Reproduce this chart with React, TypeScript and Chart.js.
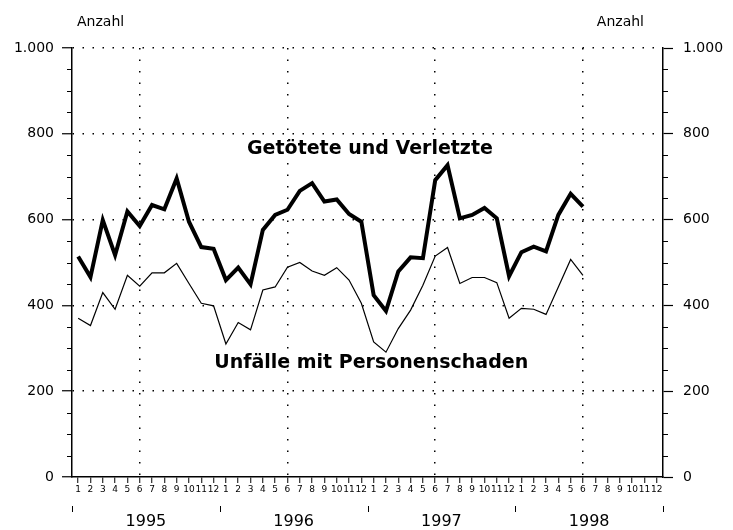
import { useEffect, useRef } from 'react';
import { Chart, registerables } from 'chart.js';

Chart.register(...registerables);

const YEARS = ['1995', '1996', '1997', '1998'];
const MONTHS = ['1', '2', '3', '4', '5', '6', '7', '8', '9', '10', '11', '12'];

// Getötete und Verletzte (Jan 1995 – Jun 1998)
const GETOETETE_VERLETZTE = [
  514, 466, 599, 517, 619, 585, 634, 624, 696, 595, 536, 532,
  459, 488, 449, 576, 611, 623, 667, 685, 642, 647, 613, 595,
  424, 387, 479, 512, 510, 692, 727, 603, 611, 627, 603, 468,
  524, 537, 526, 611, 660, 630,
];

// Unfälle mit Personenschaden (Jan 1995 – Jun 1998)
const UNFAELLE = [
  370, 353, 430, 391, 470, 445, 476, 476, 498, 451, 405, 399,
  310, 360, 343, 436, 443, 489, 500, 480, 470, 488, 459, 405,
  315, 291, 346, 389, 447, 515, 535, 451, 465, 465, 453, 370,
  393, 391, 379, 443, 507, 470,
];

const Y_MIN = 0;
const Y_MAX = 1000;
const Y_MINOR_STEP = 50;
const Y_MAJOR_STEP = 200;
const AXIS_TITLE = 'Anzahl';
const SERIES_LABELS = ['Getötete und Verletzte', 'Unfälle mit Personenschaden'];

const LABELS = YEARS.flatMap(() => MONTHS);

const FONT = 'DejaVu Sans';

function fmt(v: number): string {
  const s = String(v);
  return s.length > 3 ? s.slice(0, s.length - 3) + '.' + s.slice(s.length - 3) : s;
}

const decorPlugin = {
  id: 'decor',
  afterDraw(chart: any) {
    const { ctx, chartArea, scales } = chart;
    const x = scales.x;
    const y = scales.y;
    ctx.save();
    ctx.strokeStyle = '#000';
    ctx.fillStyle = '#000';
    // minor y ticks
    ctx.lineWidth = 1.2;
    for (let v = Y_MIN; v <= Y_MAX; v += Y_MINOR_STEP) {
      if (v % Y_MAJOR_STEP === 0) continue;
      const py = Math.round(y.getPixelForValue(v)) + 0.5;
      ctx.beginPath();
      ctx.moveTo(chartArea.left - 5, py);
      ctx.lineTo(chartArea.left, py);
      ctx.moveTo(chartArea.right, py);
      ctx.lineTo(chartArea.right + 5, py);
      ctx.stroke();
    }
    // year separators + labels
    const slot = x.getPixelForValue(1) - x.getPixelForValue(0);
    ctx.lineWidth = 1;
    ctx.font = `16px "${FONT}"`;
    ctx.textAlign = 'center';
    ctx.textBaseline = 'middle';
    YEARS.forEach((yr, k) => {
      const first = x.getPixelForValue(k * 12);
      const last = x.getPixelForValue(k * 12 + 11);
      const left = Math.round(first - slot / 2) + 0.5;
      ctx.beginPath();
      ctx.moveTo(left, 506);
      ctx.lineTo(left, 512);
      ctx.stroke();
      if (k === YEARS.length - 1) {
        const right = Math.round(last + slot / 2) + 0.5;
        ctx.beginPath();
        ctx.moveTo(right, 506);
        ctx.lineTo(right, 512);
        ctx.stroke();
      }
      ctx.fillText(yr, (first + last) / 2, 522);
    });
    // axis titles
    ctx.font = `14px "${FONT}"`;
    ctx.textAlign = 'left';
    ctx.fillText(AXIS_TITLE, chartArea.left + 5, 22);
    ctx.textAlign = 'right';
    ctx.fillText(AXIS_TITLE, chartArea.right - 19, 22);
    // series labels
    ctx.font = `bold 19px "${FONT}"`;
    ctx.textAlign = 'center';
    ctx.fillText(SERIES_LABELS[0], x.getPixelForValue(23.7), y.getPixelForValue(765));
    ctx.fillText(SERIES_LABELS[1], x.getPixelForValue(23.8), y.getPixelForValue(266));
    ctx.restore();
  },
};

const majorColor = (ctx: any) =>
  ctx.tick && ctx.tick.value % Y_MAJOR_STEP === 0 ? '#000' : 'rgba(0,0,0,0)';

export default function App() {
  const ref = useRef<HTMLCanvasElement | null>(null);

  useEffect(() => {
    if (!ref.current) return;
    Chart.defaults.font.family = FONT;
    Chart.defaults.color = '#000';
    const chart = new Chart(ref.current, {
      type: 'line',
      data: {
        labels: LABELS,
        datasets: [
          {
            label: SERIES_LABELS[0],
            data: GETOETETE_VERLETZTE,
            borderColor: '#000',
            borderWidth: 4,
            pointRadius: 0,
            tension: 0,
            fill: false,
          },
          {
            label: SERIES_LABELS[1],
            data: UNFAELLE,
            borderColor: '#000',
            borderWidth: 1.2,
            pointRadius: 0,
            tension: 0,
            fill: false,
          },
        ],
      },
      plugins: [decorPlugin],
      options: {
        responsive: false,
        animation: false,
        events: [],
        layout: { padding: { top: 48, left: 0, right: 0, bottom: 0 } },
        plugins: { legend: { display: false }, tooltip: { enabled: false } },
        scales: {
          x: {
            type: 'category',
            offset: true,
            afterFit: (s: any) => { s.height = 53; },
            ticks: {
              autoSkip: false,
              maxRotation: 0,
              minRotation: 0,
              padding: 1,
              font: { size: 9, family: FONT },
              color: '#000',
            },
            grid: {
              color: (c: any) => (c.index % 12 === 5 ? '#000' : 'rgba(0,0,0,0)'),
              lineWidth: 1.5,
              tickColor: '#000',
              tickWidth: 1,
              tickLength: 6,
            },
            border: { display: true, color: '#000', width: 1.5, dash: [1.5, 10] },
          },
          y: {
            position: 'left',
            min: Y_MIN,
            max: Y_MAX,
            afterFit: (s: any) => { s.width = 72; },
            ticks: {
              stepSize: Y_MINOR_STEP,
              autoSkip: false,
              padding: 8,
              font: { size: 14, family: FONT },
              color: '#000',
              callback: (v: any) => (Number(v) % Y_MAJOR_STEP === 0 ? fmt(Number(v)) : ''),
            },
            grid: {
              color: (c: any) => (c.tick && c.tick.value % Y_MAJOR_STEP === 0 && c.tick.value > 0 ? '#000' : 'rgba(0,0,0,0)'),
              lineWidth: 1.5,
              tickColor: majorColor,
              tickWidth: 1.2,
              tickLength: 10,
            },
            border: { display: true, color: '#000', width: 1.5, dash: [1.5, 8.5] },
          },
          y2: {
            position: 'right',
            min: Y_MIN,
            max: Y_MAX,
            afterFit: (s: any) => { s.width = 70; },
            ticks: {
              stepSize: Y_MINOR_STEP,
              autoSkip: false,
              padding: 10,
              font: { size: 14, family: FONT },
              color: '#000',
              callback: (v: any) => (Number(v) % Y_MAJOR_STEP === 0 ? fmt(Number(v)) : ''),
            },
            grid: {
              drawOnChartArea: false,
              tickColor: majorColor,
              tickWidth: 1.2,
              tickLength: 10,
            },
            border: { display: true, color: '#000', width: 1.5 },
          },
        },
      },
    } as any);
    return () => chart.destroy();
  }, []);

  return (
    <div style={{ position: 'absolute', left: 0, top: 0, width: 733, height: 530, background: '#fff' }}>
      <canvas ref={ref} width={733} height={530} style={{ display: 'block' }} />
    </div>
  );
}
